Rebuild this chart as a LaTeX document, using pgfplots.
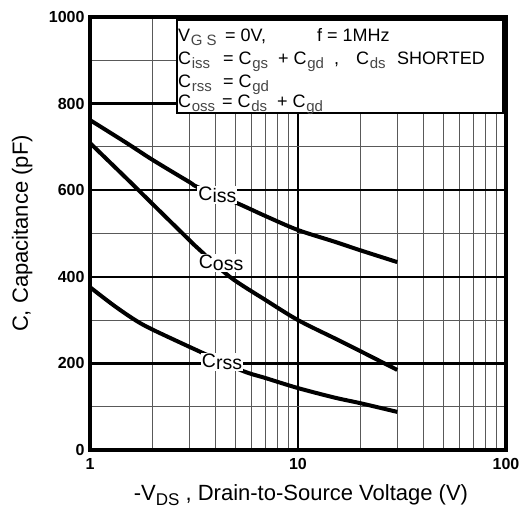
\documentclass[border=0pt]{standalone}
\usepackage{fontspec}
\setmainfont{Liberation Sans}
\usepackage{pgfplots}
\pgfplotsset{compat=1.18}
\usetikzlibrary{calc}
\newcommand{\sub}[1]{\raisebox{-0.4ex}{\fontsize{17}{17}\selectfont #1}}
\newcommand{\ls}[1]{\kern0.6pt\raisebox{-4pt}{\fontsize{15}{15}\selectfont\color{black!72}#1}}
\newcommand{\lgt}[3]{\node[anchor=base west, inner sep=0pt, font=\fontsize{18}{18}\selectfont] at ($(O)+(#1pt,-#2pt)$) {#3};}
\newcommand{\cl}[1]{C\raisebox{-2pt}{#1}}
\begin{document}
\begin{tikzpicture}
\begin{axis}[name=ax, scale only axis, width=416pt, height=433pt,
  xmode=log, log basis x=10, xmin=1, xmax=100, ymin=0, ymax=1000,
  xtick={1,10,100}, xticklabels={1,10,100},
  minor xtick={2,3,4,5,6,7,8,9,20,30,40,50,60,70,80,90},
  ytick={0,200,400,600,800,1000},
  minor ytick={100,300,500,700,900},
  grid=both,
  major grid style={line width=2.6pt,black},
  minor grid style={line width=1pt,black!65},
  axis line style={line width=4.5pt},
  tick style={draw=none},
  tick label style={font=\fontsize{16}{18}\selectfont\bfseries},
  /pgf/number format/assume math mode=true,
  /pgf/number format/1000 sep={},
  xticklabel style={yshift=-5pt},
  yticklabel style={xshift=-2pt},
  xlabel={-V\sub{DS} , Drain-to-Source Voltage (V)},
  ylabel={C, Capacitance (pF)},
  label style={font=\fontsize{22}{24}\selectfont},
  xlabel style={at={(axis description cs:0.5,-0.104)}, anchor=center, xshift=3pt},
  ylabel style={at={(axis description cs:-0.163,0.5)}, anchor=center},
]
\addplot[line width=4pt, smooth, tension=0.5] coordinates {(1,762) (1.5,709) (2,670) (3,619) (3.3,607) (5.1,570) (7,540) (10,508) (15,481) (20,461) (30,434)};
\addplot[line width=4pt, smooth, tension=0.5] coordinates {(1,709) (1.5,627) (2,568) (3,485) (3.3,466) (4.7,400) (7,346) (10,300) (15,258) (20,228) (30,185)};
\addplot[line width=4pt, smooth, tension=0.5] coordinates {(1,376) (1.3,334) (1.65,300) (2,278) (3.38,227) (5.4,183) (7,166) (10,143) (15,121) (20,108) (30,88)};
\node[fill=white, inner sep=1pt, font=\fontsize{19.5}{19.5}\selectfont] at (axis cs:4.1,589) {\cl{iss}};
\node[fill=white, inner sep=1pt, font=\fontsize{19.5}{19.5}\selectfont] at (axis cs:4.27,432) {\cl{oss}};
\node[fill=white, inner sep=1pt, font=\fontsize{19.5}{19.5}\selectfont] at (axis cs:4.31,203) {\cl{rss}};
\end{axis}
\coordinate (O) at ($(ax.north west)+(-90pt,17pt)$);
\draw[fill=white, line width=2.8pt] ($(O)+(177pt,-20pt)$) rectangle ($(O)+(503pt,-113pt)$);
\lgt{178}{42}{V\ls{G S}}\lgt{225}{42}{= 0V,}\lgt{317}{42}{f = 1MHz}
\lgt{178}{65}{C\ls{iss}}\lgt{223}{65}{= C\ls{gs}}\lgt{278}{65}{+ C\ls{gd}}\lgt{334}{65}{,}\lgt{356}{65}{C\ls{ds}}\lgt{397}{65}{SHORTED}
\lgt{178}{88}{C\ls{rss}}\lgt{223}{88}{= C\ls{gd}}
\lgt{178}{108}{C\ls{oss}}\lgt{222}{108}{= C\ls{ds}}\lgt{277}{108}{+ C\ls{gd}}
\pgfresetboundingbox
\path ($(ax.south west)+(-90pt,-64pt)$) rectangle ($(ax.north east)+(15pt,17pt)$);
\end{tikzpicture}
\end{document}
